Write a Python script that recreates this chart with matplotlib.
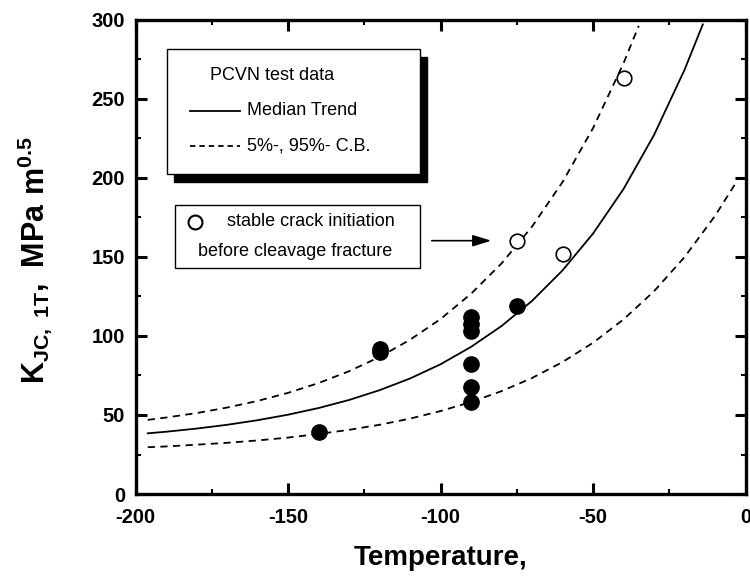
import matplotlib
matplotlib.use("Agg")
import matplotlib.pyplot as plt
from matplotlib.patches import Rectangle
from matplotlib.lines import Line2D
from matplotlib.ticker import MultipleLocator

plt.rcParams["font.family"] = ["Liberation Sans", "DejaVu Sans"]
plt.rcParams["mathtext.fontset"] = "custom"
plt.rcParams["mathtext.rm"] = "Liberation Sans"
plt.rcParams["mathtext.bf"] = "Liberation Sans:bold"
plt.rcParams["mathtext.default"] = "bf"
plt.rcParams["axes.unicode_minus"] = False

# PCVN test data (filled) and points with stable crack initiation (open)
test_temp = [-140, -120, -120, -90, -90, -90, -90, -90, -90, -75]
test_kjc = [39, 92, 90, 112, 107.5, 103, 82, 67.5, 58.5, 119]
stable_temp = [-75, -60, -40]
stable_kjc = [160, 152, 263]

# median trend and 5% / 95% bounds
median_temp = [-196, -190, -180, -170, -160, -150, -140, -130, -120, -110,
               -100, -90, -80, -70, -60, -50, -40, -30, -20, -14]
median_kjc = [38.4, 39.4, 41.4, 43.8, 46.7, 50.2, 54.4, 59.5, 65.7, 73.1,
              82.1, 93.1, 106.3, 122.2, 141.5, 164.8, 193.0, 227.2, 268.4, 297.2]
upper_temp = [-196, -190, -180, -170, -160, -150, -140, -130, -120, -110,
              -100, -90, -80, -70, -60, -50, -40, -35]
upper_kjc = [46.9, 48.4, 51.2, 54.7, 58.9, 64.0, 70.2, 77.7, 86.7, 97.6,
             110.7, 126.7, 145.9, 169.2, 197.4, 231.5, 272.6, 296.3]
lower_temp = [-196, -190, -180, -170, -160, -150, -140, -130, -120, -110,
              -100, -90, -80, -70, -60, -50, -40, -30, -20, -10, -3]
lower_kjc = [29.6, 30.1, 31.2, 32.4, 33.9, 35.7, 38.0, 40.6, 43.8, 47.7,
             52.5, 58.2, 65.1, 73.4, 83.5, 95.7, 110.5, 128.3, 149.9, 176.0, 197.4]

fig = plt.figure(figsize=(7.5, 5.79), dpi=100)
ax = fig.add_axes([0.1807, 0.1468, 0.8133, 0.8187])

# pixel position in the 750x579 image -> axes fraction
def pos(px, py):
    return ((px - 135.5) / 610.0, (494.0 - py) / 474.0)

dash = (4, 3)
ax.plot(median_temp, median_kjc, color="black", lw=1.3)
ax.plot(upper_temp, upper_kjc, color="black", lw=1.3, dashes=dash)
ax.plot(lower_temp, lower_kjc, color="black", lw=1.3, dashes=dash)
ax.plot(test_temp, test_kjc, "o", color="black", ms=11, zorder=5)
ax.plot(stable_temp, stable_kjc, "o", mfc="white", mec="black", mew=1.2, ms=10.5, zorder=5)

ax.set_xlim(-200, 0)
ax.set_ylim(0, 300)
ax.xaxis.set_major_locator(MultipleLocator(50))
ax.xaxis.set_minor_locator(MultipleLocator(25))
ax.yaxis.set_major_locator(MultipleLocator(50))
ax.yaxis.set_minor_locator(MultipleLocator(25))
for s in ax.spines.values():
    s.set_linewidth(2.4)
ax.tick_params(which="both", direction="in", top=True, right=True)
ax.tick_params(which="major", length=8, width=2.2, labelsize=14.5)
ax.tick_params(which="minor", length=3.5, width=1.5)
ax.tick_params(axis="x", which="major", pad=10)
ax.tick_params(axis="y", which="major", pad=7.5)
for lab in ax.get_xticklabels() + ax.get_yticklabels():
    lab.set_fontweight("bold")

ax.set_xlabel("Temperature,", fontsize=20, fontweight="bold")
ax.xaxis.set_label_coords(0.5, pos(0, 558)[1])
ax.xaxis.label.set_va("center")
ax.set_ylabel(r"$K_{JC,\ 1T},\ MPa\ m^{0.5}$", fontsize=22)
ax.yaxis.set_label_coords(pos(35, 0)[0], pos(0, 260)[1])
ax.yaxis.label.set_va("center")

# legend box with drop shadow
x0, y1 = pos(167, 49)
x1, y0 = pos(420, 174)
sx, sy = 7 / 610.0, 8.5 / 474.0
ax.add_patch(Rectangle((x0 + sx, y0 - sy), x1 - x0, y1 - y0, transform=ax.transAxes,
                       facecolor="black", edgecolor="black", zorder=6, clip_on=False))
ax.add_patch(Rectangle((x0, y0), x1 - x0, y1 - y0, transform=ax.transAxes,
                       facecolor="white", edgecolor="black", lw=1.0, zorder=7, clip_on=False))
tx, ty = pos(210, 76)
ax.text(tx, ty, "PCVN test data", transform=ax.transAxes, fontsize=13,
        va="center", ha="left", zorder=8)
lx0, ly = pos(190, 110.7)
lx1, _ = pos(240, 0)
ax.add_line(Line2D([lx0, lx1], [ly, ly], transform=ax.transAxes, color="black", lw=1.3, zorder=8))
tx, _ = pos(247, 0)
ax.text(tx, ly, "Median Trend", transform=ax.transAxes, fontsize=13, va="center", zorder=8)
_, ly2 = pos(0, 146)
ax.add_line(Line2D([lx0, lx1], [ly2, ly2], transform=ax.transAxes, color="black", lw=1.3,
                   dashes=(3, 2.2), zorder=8))
ax.text(tx, ly2, "5%-, 95%- C.B.", transform=ax.transAxes, fontsize=13, va="center", zorder=8)

# box for the open symbols
bx0, by1 = pos(175, 205)
bx1, by0 = pos(420, 268)
ax.add_patch(Rectangle((bx0, by0), bx1 - bx0, by1 - by0, transform=ax.transAxes,
                       facecolor="white", edgecolor="black", lw=1.0, zorder=7, clip_on=False))
cx, cy = pos(195, 221.7)
ax.add_line(Line2D([cx], [cy], transform=ax.transAxes, marker="o", mfc="white", mec="black",
                   mew=1.5, ms=10, zorder=8))
tx, _ = pos(226.7, 0)
ax.text(tx, cy, "stable crack initiation", transform=ax.transAxes, fontsize=13,
        va="center", zorder=8)
tx, ty = pos(198, 251.7)
ax.text(tx, ty, "before cleavage fracture", transform=ax.transAxes, fontsize=13,
        va="center", zorder=8)
ax0, ay = pos(429, 240.7)
ax1, _ = pos(494, 0)
ax.annotate("", xy=(ax1, ay), xytext=(ax0, ay), xycoords="axes fraction",
            arrowprops=dict(arrowstyle="-|>,head_length=0.8,head_width=0.25",
                            color="black", lw=1.2, mutation_scale=14), zorder=8)

fig.savefig("out.png", dpi=100)
